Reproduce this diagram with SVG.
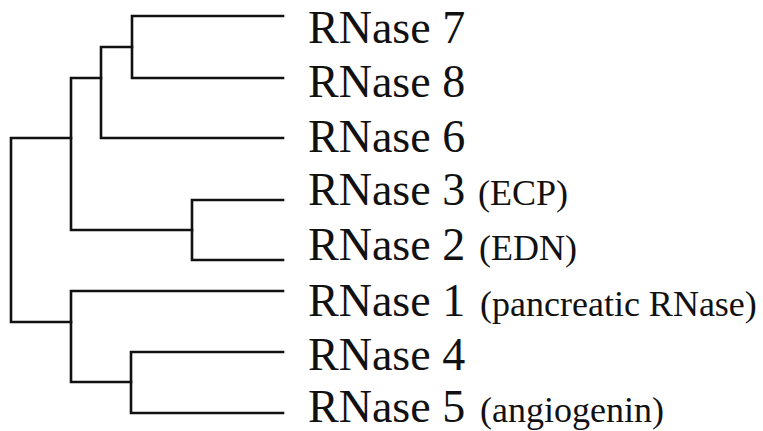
<svg xmlns="http://www.w3.org/2000/svg" width="763" height="431" viewBox="0 0 763 431">
<style>
.br{fill:none;stroke:#111;stroke-width:2.6;stroke-linecap:square;stroke-linejoin:miter}
.lb{font-family:"Liberation Serif","Times New Roman",serif;font-size:46px;fill:#111}
.sm{font-family:"Liberation Serif","Times New Roman",serif;font-size:36px;fill:#111}
</style>
<rect width="763" height="431" fill="#fff"/>
<g id="connectors" class="br">
<path d="M71,138 H11 V322 H71"/>
<path d="M101,78 H71 V230 H192"/>
<path d="M132,47 H101 V138 H283"/>
<path d="M283,16 H132 V78 H283"/>
<path d="M283,200 H192 V260 H283"/>
<path d="M283,291 H71 V382 H131"/>
<path d="M283,352 H131 V413 H283"/>
</g>
<g id="rnase7"><text class="lb" x="308" y="43">RNase 7</text></g>
<g id="rnase8"><text class="lb" x="308" y="97">RNase 8</text></g>
<g id="rnase6"><text class="lb" x="308" y="152">RNase 6</text></g>
<g id="rnase3"><text class="lb" x="308" y="205">RNase 3</text><text class="sm" x="478" y="205">(ECP)</text></g>
<g id="rnase2"><text class="lb" x="308" y="260">RNase 2</text><text class="sm" x="479" y="260">(EDN)</text></g>
<g id="rnase1"><text class="lb" x="308" y="316">RNase 1</text><text class="sm" x="480" y="316">(pancreatic RNase)</text></g>
<g id="rnase4"><text class="lb" x="308" y="370">RNase 4</text></g>
<g id="rnase5"><text class="lb" x="308" y="422">RNase 5</text><text class="sm" x="480" y="422">(angiogenin)</text></g>
</svg>
